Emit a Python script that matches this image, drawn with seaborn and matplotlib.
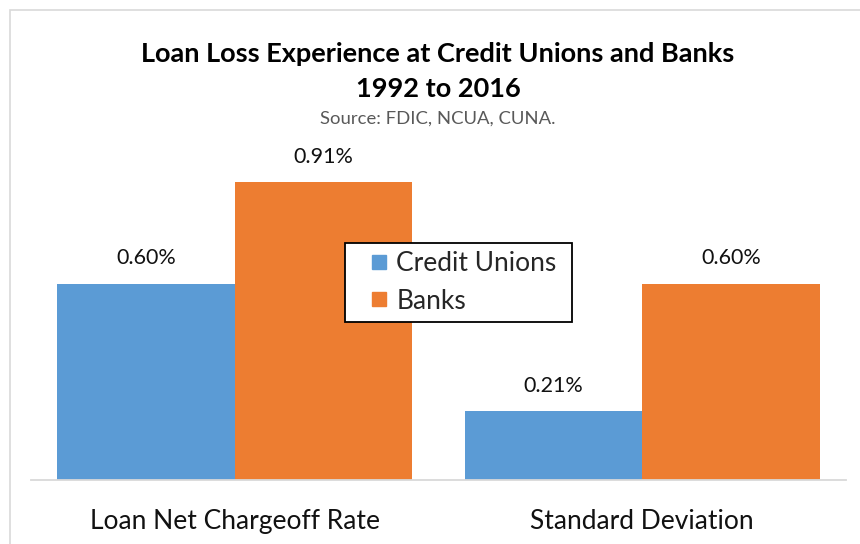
import matplotlib
matplotlib.use("Agg")
import matplotlib.pyplot as plt
from matplotlib.patches import Rectangle
from matplotlib.lines import Line2D
import pandas as pd
import seaborn as sns

categories = ["Loan Net Chargeoff Rate", "Standard Deviation"]
series = ["Credit Unions", "Banks"]
credit_unions = [0.60, 0.21]
banks = [0.91, 0.60]
colors = ["#5B9BD5", "#ED7D31"]

df = pd.DataFrame({
    "category": categories * 2,
    "series": [series[0]] * 2 + [series[1]] * 2,
    "value": credit_unions + banks,
})

sns.set_style("white")
plt.rcParams["font.family"] = ["Lato", "DejaVu Sans"]

W, H = 860, 544
fig = plt.figure(figsize=(W / 100, H / 100), dpi=100)
ax_h = 327.5
ax = fig.add_axes([31 / W, 1 - 480 / H, (846 - 31) / W, ax_h / H])

sns.barplot(data=df, x="category", y="value", hue="series", order=categories,
            hue_order=series, palette=colors, width=0.87, saturation=1,
            edgecolor="none", linewidth=0, ax=ax, legend=False)

ax.set_xlim(-0.5, 1.5)
ax.set_ylim(0, 1.0)
ax.set_xlabel("")
ax.set_ylabel("")
ax.set_yticks([])
for s in ["top", "right", "left"]:
    ax.spines[s].set_visible(False)
ax.spines["bottom"].set_color("#D9D9D9")
ax.spines["bottom"].set_linewidth(1.3)
ax.tick_params(axis="x", length=0, pad=21, labelsize=19, labelcolor="#111111")

for cont in ax.containers:
    ax.bar_label(cont, labels=[f"{v:.2f}%" for v in cont.datavalues],
                 padding=11, fontsize=15.5, color="#111111")

# legend box with square swatches
handles = [Line2D([], [], marker="s", linestyle="none", markersize=10.5,
                  markerfacecolor=c, markeredgecolor=c) for c in colors]
ax_w = 846 - 31
x0 = (345 - 31) / ax_w
x1 = (572 - 31) / ax_w
y1 = (480 - 243) / ax_h
leg = ax.legend(handles, series, loc="upper left",
                bbox_to_anchor=(x0, y1 - 0.3, x1 - x0, 0.3), mode="expand",
                frameon=True, framealpha=1, facecolor="white", fontsize=19,
                handlelength=2.0, handletextpad=-0.35, borderpad=0.3,
                labelspacing=0.48, fancybox=False, borderaxespad=0)
leg.get_frame().set_edgecolor("black")
leg.get_frame().set_linewidth(1.3)

fig.text(438 / W, 1 - 54 / H, "Loan Loss Experience at Credit Unions and Banks",
         ha="center", va="center", fontsize=19.5, fontweight="bold", color="black")
fig.text(438 / W, 1 - 89 / H, "1992 to 2016",
         ha="center", va="center", fontsize=19.5, fontweight="bold", color="black")
fig.text(438 / W, 1 - 119 / H, "Source: FDIC, NCUA, CUNA.",
         ha="center", va="center", fontsize=13.3, color="#595959")

fig.add_artist(Rectangle((9.5 / W, -0.1), 2, 1 - 9.5 / H + 0.1, transform=fig.transFigure,
                         fill=False, edgecolor="#D9D9D9", linewidth=1.2))

fig.savefig("out.png", dpi=100)
